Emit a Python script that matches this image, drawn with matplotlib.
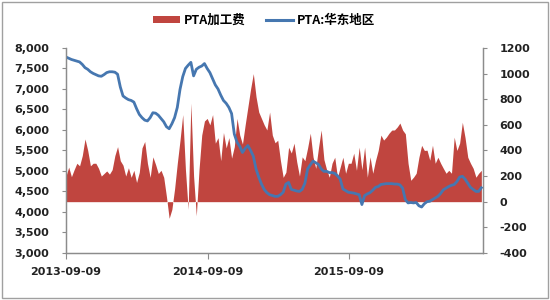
import numpy as np
import pandas as pd
import matplotlib
matplotlib.use('Agg')
import matplotlib.pyplot as plt
from matplotlib.patches import Patch, Rectangle
from matplotlib.lines import Line2D
from matplotlib.ticker import FuncFormatter

plt.rcParams['font.family'] = ['Noto Sans CJK SC', 'DejaVu Sans']
plt.rcParams['axes.unicode_minus'] = False

# weekly samples, starting 2013-09-09
dates = pd.date_range('2013-09-09', periods=154, freq='7D')

# PTA加工费 (right axis)
fee = [200, 270, 195, 250, 300, 280, 360, 490, 400, 280,
       300, 300, 260, 200, 220, 240, 215, 250, 360, 430,
       320, 285, 200, 265, 190, 245, 150, 230, 420, 470,
       300, 190, 350, 290, 220, 245, 190, 40, -130, -60,
       100, 300, 480, 680, 250, -60, 770, 200, -110, 250,
       520, 630, 650, 600, 680, 457, 500, 320, 540, 420,
       500, 340, 430, 650, 520, 450, 600, 740, 880, 1000,
       820, 700, 650, 600, 560, 700, 520, 460, 480, 320,
       190, 230, 425, 380, 457, 310, 200, 350, 320, 420,
       535, 350, 260, 420, 560, 330, 250, 191, 300, 347,
       191, 269, 347, 222, 300, 300, 379, 245, 426, 250,
       426, 191, 350, 222, 320, 400, 520, 481, 504, 535,
       559, 560, 583, 614, 559, 530, 300, 167, 191, 222,
       347, 440, 400, 402, 324, 441, 300, 347, 300, 260,
       222, 245, 222, 504, 400, 457, 620, 500, 347, 300,
       260, 191, 222, 245]

# PTA:华东地区 (left axis)
price = [7780, 7750, 7720, 7700, 7680, 7660, 7600, 7520, 7480, 7420,
         7380, 7350, 7320, 7310, 7350, 7400, 7420, 7420, 7410, 7360,
         7050, 6830, 6780, 6740, 6720, 6680, 6520, 6380, 6300, 6240,
         6220, 6300, 6420, 6410, 6360, 6280, 6200, 6080, 6030, 6150,
         6300, 6550, 6990, 7300, 7500, 7580, 7650, 7320, 7480, 7530,
         7560, 7620, 7500, 7400, 7250, 7100, 7000, 6850, 6720, 6650,
         6550, 6400, 5900, 5700, 5600, 5450, 5550, 5620, 5500, 5360,
         5050, 4850, 4680, 4550, 4470, 4420, 4400, 4380, 4380, 4420,
         4480, 4680, 4720, 4550, 4530, 4510, 4500, 4550, 4700, 5050,
         5150, 5240, 5200, 5160, 5050, 4990, 4990, 4960, 4960, 4940,
         4880, 4800, 4560, 4520, 4480, 4470, 4460, 4440, 4420, 4180,
         4400, 4440, 4470, 4530, 4600, 4620, 4670, 4680, 4690, 4690,
         4690, 4680, 4680, 4660, 4580, 4300, 4220, 4230, 4220, 4230,
         4150, 4120, 4200, 4250, 4260, 4300, 4340, 4380, 4450, 4540,
         4580, 4620, 4650, 4670, 4740, 4850, 4870, 4800, 4700, 4600,
         4550, 4500, 4500, 4590]

date_ticks = pd.to_datetime(['2013-09-09', '2014-09-09', '2015-09-09'])
date_labels = ['2013-09-09', '2014-09-09', '2015-09-09']
left_ticks = np.arange(3000, 8001, 500)
right_ticks = np.arange(-400, 1201, 200)

red = '#C0453F'
blue = '#4677B0'
grey = '#8C8C8C'

fig = plt.figure(figsize=(5.5, 3), dpi=100)
ax = fig.add_axes([0.12, 0.157, 0.758, 0.683])
ax2 = ax.twinx()

ax2.fill_between(dates, 0, fee, color=red, linewidth=0)
ax.plot(dates, price, color=blue, linewidth=2.0)

# keep the price line above the filled area
ax.set_zorder(ax2.get_zorder() + 1)
ax.patch.set_visible(False)

ax.set_xlim(dates[0], dates[-1] + pd.Timedelta(days=4))
ax.set_ylim(3000, 8000)
ax2.set_ylim(-400, 1200)
ax.set_yticks(left_ticks)
ax2.set_yticks(right_ticks)
ax.yaxis.set_major_formatter(FuncFormatter(lambda v, p: f'{int(v):,}'))
ax2.yaxis.set_major_formatter(FuncFormatter(lambda v, p: f'{int(v)}'))
ax.set_xticks(date_ticks)
ax.set_xticklabels(date_labels)

for a in (ax, ax2):
    a.spines['top'].set_visible(False)
    for s in ('left', 'right', 'bottom'):
        a.spines[s].set_color(grey)
        a.spines[s].set_linewidth(0.9)

ax.tick_params(axis='y', direction='out', length=3, color=grey, pad=9,
               labelsize=8, labelcolor='#222222')
ax2.tick_params(axis='y', direction='out', length=3, color=grey, pad=9,
                labelsize=8, labelcolor='#222222')
ax.tick_params(axis='x', direction='out', length=4, color=grey, pad=6,
               labelsize=8, labelcolor='#222222')
for lab in ax.get_yticklabels() + ax2.get_yticklabels() + ax.get_xticklabels():
    lab.set_fontweight('bold')
    lab.set_family('DejaVu Sans')

handles = [Patch(facecolor=red, edgecolor='none'),
           Line2D([0], [0], color=blue, linewidth=2.2)]
fig.legend(handles, ['PTA加工费', 'PTA:华东地区'], loc='center',
           bbox_to_anchor=(0.48, 0.933), ncol=2, frameon=False,
           handlelength=2.2, handleheight=0.5, handletextpad=0.3,
           columnspacing=1.6, prop={'family': ['Noto Sans CJK SC', 'DejaVu Sans'],
                                    'weight': 'bold', 'size': 9})

fig.patches.append(Rectangle((0.004, 0.006), 0.992, 0.988, transform=fig.transFigure,
                             fill=False, edgecolor='#A0A0A0', linewidth=1))

fig.savefig('out.png', dpi=100)
